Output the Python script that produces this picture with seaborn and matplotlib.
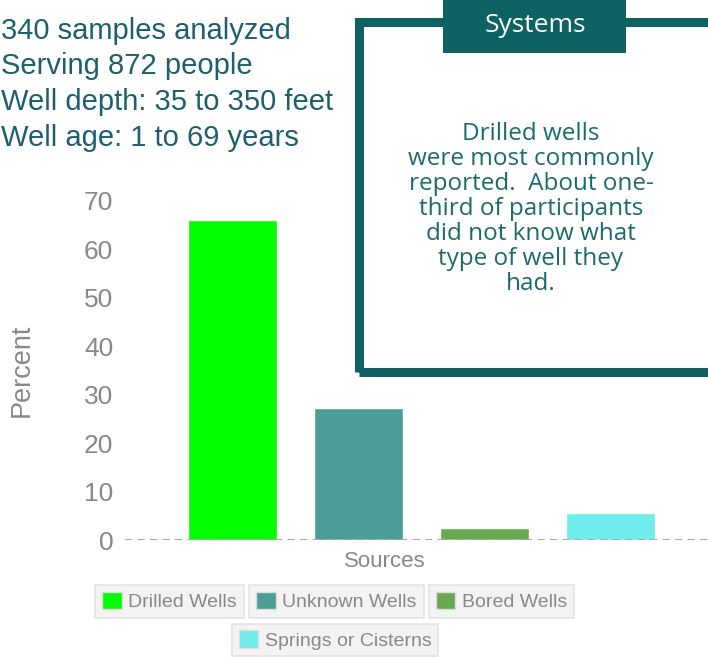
import matplotlib
matplotlib.use("Agg")
import matplotlib.pyplot as plt
import matplotlib.patches as mpatches
import pandas as pd
import seaborn as sns

# ---- data ----
sources = ["Drilled Wells", "Unknown Wells", "Bored Wells", "Springs or Cisterns"]
percent = [66.1, 27.2, 2.4, 5.5]
colors = ["#00ff00", "#4a9e96", "#6aa84f", "#70ecec"]

facts = ["340 samples analyzed", "Serving 872 people",
         "Well depth: 35 to 350 feet", "Well age: 1 to 69 years"]
box_title = "Systems"
box_text = ("Drilled wells\nwere most commonly\nreported.  About one-\n"
            "third of participants\ndid not know what\ntype of well they\nhad.")

df = pd.DataFrame({"source": sources, "percent": percent})

sns.set_theme(style="white")
plt.rcParams["font.family"] = ["Liberation Sans", "DejaVu Sans"]

W, H = 708, 659
fig = plt.figure(figsize=(W / 100, H / 100), dpi=100)
ax = fig.add_axes([125 / W, 1 - 540 / H, 1 - 125 / W, (540 - 201) / H])
ax.patch.set_alpha(0)

sns.barplot(data=df, x="source", y="percent", hue="source", palette=colors,
            width=0.706, legend=False, ax=ax, saturation=1, zorder=2)

ax.set_xlim(-0.853, 3.774)
ax.set_ylim(0, 70)
ax.set_yticks(range(0, 71, 10))
ax.tick_params(axis="y", length=0, pad=8.5, labelsize=19, labelcolor="#888888")
ax.set_xticks([])
for s in ax.spines.values():
    s.set_visible(False)
ax.axhline(0, color="#aaaaaa", lw=1.5, ls=(0, (3.5, 2.5)), zorder=3)

ax.set_ylabel("Percent", fontsize=19.5, color="#888888")
ax.yaxis.set_label_coords(-0.155, 0.5)
ax.set_xlabel("Sources", fontsize=16, color="#888888")
ax.xaxis.set_label_coords(0.446, -0.032)

# per-item legend boxes
legend_pos = [(169.5, 601.5), (336.5, 601.5), (501.5, 601.5), (335, 640)]
for name, col, (px, py) in zip(sources, colors, legend_pos):
    h = mpatches.Patch(facecolor=col, edgecolor="#dddddd")
    lg = fig.legend([h], [name], loc="center", bbox_to_anchor=(px / W, 1 - py / H),
                    frameon=True, fancybox=False, fontsize=14,
                    labelcolor="#888888", handlelength=1.0, handleheight=1.0,
                    handletextpad=0.35, borderpad=0.35, borderaxespad=0)
    lg.get_frame().set_facecolor("#f0f0f0")
    lg.get_frame().set_edgecolor("#dddddd")
    lg.get_frame().set_linewidth(1.2)

# summary text top-left
for i, line in enumerate(facts):
    fig.text(1 / W, 1 - (39 + 35.5 * i) / H, line, fontsize=21, color="#1d5f6e",
             family=["Liberation Sans", "DejaVu Sans"], va="baseline", ha="left")

# framed box with header
teal = "#0e6262"
fig.patches.append(mpatches.Rectangle((358.5 / W, 1 - 371.5 / H), (712 - 358.5) / W,
                                      (371.5 - 21.5) / H, transform=fig.transFigure,
                                      fill=False, edgecolor=teal, linewidth=6.5, zorder=5))
fig.patches.append(mpatches.Rectangle((443 / W, 1 - 53 / H), (626 - 443) / W, 53 / H,
                                      transform=fig.transFigure, facecolor=teal,
                                      edgecolor="none", zorder=6))
fig.text(535 / W, 1 - 25 / H, box_title, color="white", fontsize=19,
         family=["Open Sans", "DejaVu Sans"], ha="center", va="center", zorder=7)
fig.text(531 / W, 1 - 209 / H, box_text, color="#1b6b6b", fontsize=17.5,
         family=["Open Sans", "DejaVu Sans"], ha="center", va="center",
         multialignment="center", linespacing=1.05, zorder=7)

fig.savefig("out.png", dpi=100)
